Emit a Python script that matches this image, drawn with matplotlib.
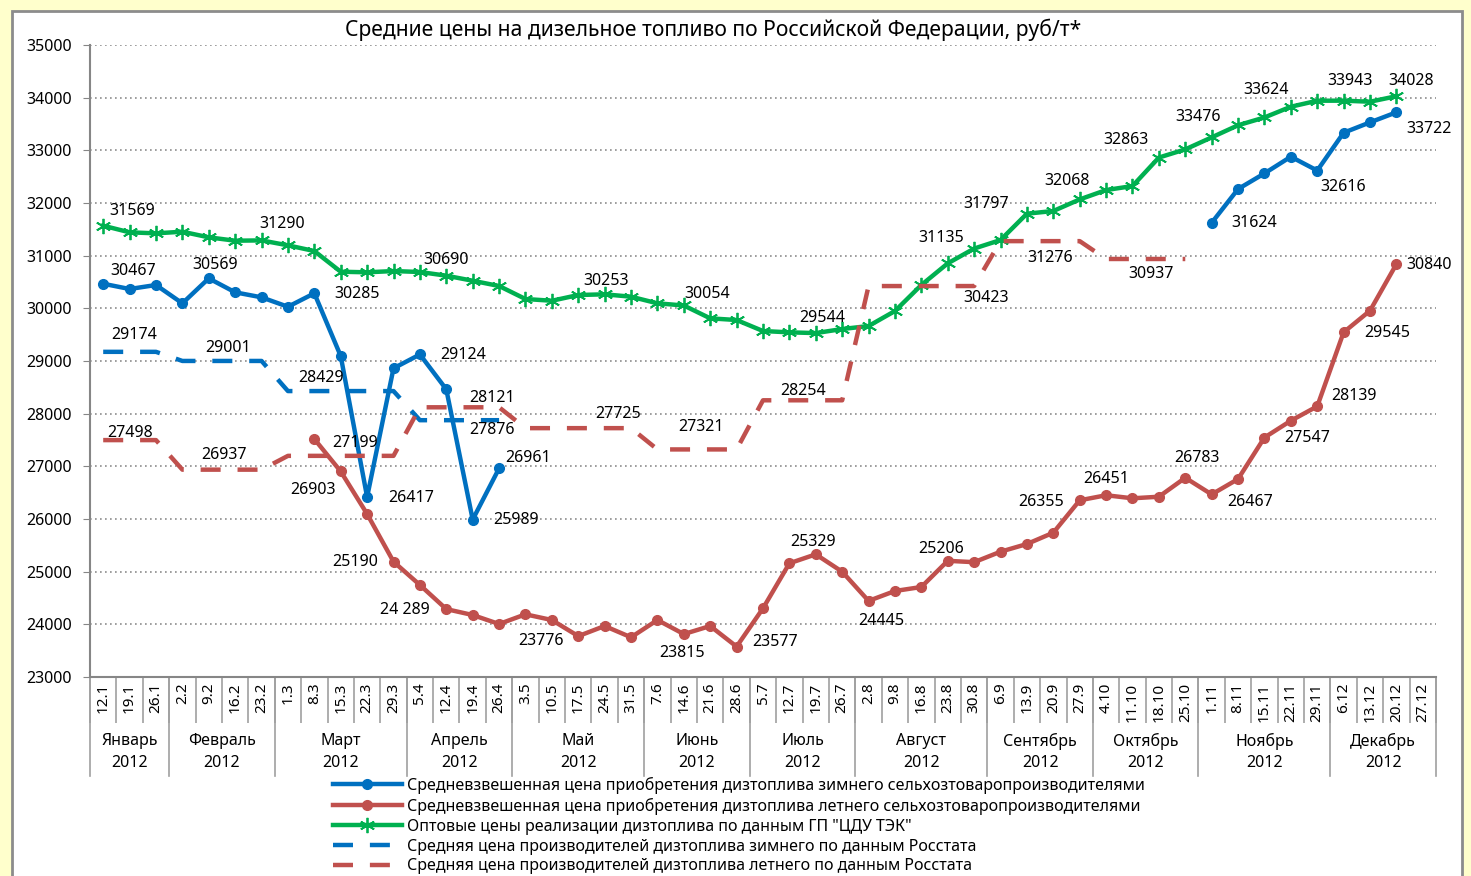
import numpy as np
import matplotlib
matplotlib.use("Agg")
import matplotlib.pyplot as plt
from matplotlib.patches import Rectangle
from matplotlib.lines import Line2D

plt.rcParams['font.family'] = ['Noto Sans', 'DejaVu Sans']

nan = np.nan

# -----------------------------
# Data (руб/т, weekly, 2012)
# -----------------------------
weeks = ['12.1', '19.1', '26.1', '2.2', '9.2', '16.2', '23.2', '1.3', '8.3', '15.3', '22.3', '29.3',
         '5.4', '12.4', '19.4', '26.4', '3.5', '10.5', '17.5', '24.5', '31.5', '7.6', '14.6', '21.6',
         '28.6', '5.7', '12.7', '19.7', '26.7', '2.8', '9.8', '16.8', '23.8', '30.8', '6.9', '13.9',
         '20.9', '27.9', '4.10', '11.10', '18.10', '25.10', '1.11', '8.11', '15.11', '22.11', '29.11',
         '6.12', '13.12', '20.12', '27.12']
months = ['Январь', 'Февраль', 'Март', 'Апрель', 'Май', 'Июнь', 'Июль', 'Август',
          'Сентябрь', 'Октябрь', 'Ноябрь', 'Декабрь']
weeks_per_month = [3, 4, 5, 4, 5, 4, 4, 5, 4, 4, 5, 4]
year = '2012'

winter_buy = ([30467, 30367, 30443, 30095, 30569, 30304, 30209, 30030, 30285, 29094, 26417,
               28861, 29124, 28462, 25989, 26961] + [nan] * 26 +
              [31624, 32265, 32562, 32879, 32616, 33334, 33531, 33722, nan])
summer_buy = ([nan] * 8 +
              [27519, 26903, 26095, 25190, 24747, 24289, 24177, 24006, 24190, 24082, 23776,
               23968, 23754, 24082, 23815, 23968, 23577, 24304, 25159, 25329, 24999, 24445,
               24633, 24709, 25206, 25180, 25379, 25525, 25740, 26355, 26451, 26393, 26423,
               26783, 26467, 26759, 27547, 27866, 28139, 29545, 29955, 30840, nan])
wholesale = [31569, 31443, 31424, 31455, 31348, 31284, 31290, 31196, 31088, 30695, 30684,
             30708, 30690, 30620, 30524, 30424, 30177, 30144, 30253, 30266, 30221, 30095,
             30054, 29810, 29778, 29569, 29544, 29530, 29607, 29664, 29949, 30443, 30854,
             31135, 31297, 31797, 31848, 32068, 32246, 32322, 32863, 33018, 33246, 33476,
             33624, 33828, 33942, 33943, 33923, 34028, nan]
# Rosstat: one value per month
winter_rosstat = [29174, 29001, 28429, 27876, nan, nan, nan, nan, nan, nan, nan, nan]
summer_rosstat = [27498, 26937, 27199, 28121, 27725, 27321, 28254, 30423, 31276, 30937, nan, nan]

names = ['Средневзвешенная цена приобретения дизтоплива зимнего сельхозтоваропроизводителями',
         'Средневзвешенная цена приобретения дизтоплива летнего сельхозтоваропроизводителями',
         'Оптовые цены реализации дизтоплива по данным ГП "ЦДУ ТЭК"',
         'Средняя цена производителей дизтоплива зимнего по данным Росстата',
         'Средняя цена производителей дизтоплива летнего по данным Росстата']

# -----------------------------
# Chart
# -----------------------------
BLUE, RED, GREEN = '#0070C0', '#C0504D', '#00B050'
W, H = 1471, 876

x = np.arange(len(weeks))
series = {
    'winter': np.array(winter_buy, dtype=float),
    'summer': np.array(summer_buy, dtype=float),
    'green': np.array(wholesale, dtype=float),
    'w_ross': np.repeat(winter_rosstat, weeks_per_month).astype(float),
    's_ross': np.repeat(summer_rosstat, weeks_per_month).astype(float),
}

fig = plt.figure(figsize=(W / 100, H / 100), dpi=100)
fig.patch.set_facecolor('#FFFFCC')
fig.patches.append(Rectangle((12 / W, -0.02), (1462 - 12) / W, 1.02 - 11 / H,
                             transform=fig.transFigure, facecolor='white',
                             edgecolor='#8C8C8C', lw=2, zorder=-10))

ax = fig.add_axes([90 / W, 1 - 677 / H, (1436 - 90) / W, (677 - 45) / H])
ax.set_facecolor('white')

ax.plot(x, series['winter'], color=BLUE, lw=3.2, marker='o', ms=7, label=names[0])
ax.plot(x, series['summer'], color=RED, lw=3.2, marker='o', ms=7, label=names[1])
ax.plot(x, series['green'], color=GREEN, lw=3.2, marker=(6, 2, 0), ms=11, mew=1.3,
        label=names[2])
ax.plot(x, series['w_ross'], color=BLUE, lw=3.2, ls=(0, (4.5, 3.8)), label=names[3])
ax.plot(x, series['s_ross'], color=RED, lw=3.2, ls=(0, (4.5, 3.8)), label=names[4])

# data labels: (series, index, dx px, dy px)
labels = [
    ('green', 0, 29, 15), ('green', 6, 21, 16), ('green', 12, 26, 12), ('green', 18, 28, 14),
    ('green', 22, 23, 11), ('green', 26, 33, 14), ('green', 33, -33, 11), ('green', 35, -41, 10),
    ('green', 37, -13, 18), ('green', 40, -33, 18), ('green', 43, -40, 8), ('green', 44, 2, 27),
    ('green', 47, 6, 20), ('green', 49, 15, 15),
    ('winter', 0, 30, 13), ('winter', 4, 6, 13), ('winter', 8, 43, -1), ('winter', 12, 43, -1),
    ('winter', 10, 44, -1), ('winter', 14, 43, 0), ('winter', 15, 29, 10), ('winter', 42, 43, 0),
    ('winter', 46, 26, -16), ('winter', 49, 33, -17),
    ('summer', 9, -28, -19), ('summer', 11, -38, 0), ('summer', 13, -41, -1),
    ('summer', 18, -37, -5), ('summer', 22, -2, -19), ('summer', 24, 38, 5),
    ('summer', 27, -3, 12), ('summer', 29, 13, -20), ('summer', 32, -7, 12),
    ('summer', 37, -39, -2), ('summer', 38, 0, 16), ('summer', 41, 12, 20),
    ('summer', 42, 38, -8), ('summer', 44, 43, 0), ('summer', 46, 37, 10),
    ('summer', 47, 44, -1), ('summer', 49, 33, -1),
    ('w_ross', 0, 31, 17), ('w_ross', 4, 19, 13), ('w_ross', 8, 7, 13), ('w_ross', 14, 19, -10),
    ('s_ross', 0, 27, 7), ('s_ross', 4, 15, 15), ('s_ross', 9, 14, 13), ('s_ross', 14, 19, 9),
    ('s_ross', 19, 13, 14), ('s_ross', 22, 17, 22), ('s_ross', 26, 14, 9),
    ('s_ross', 33, 12, -12), ('s_ross', 36, -3, -17), ('s_ross', 39, 19, -15),
]
spaced = {('summer', 13)}
for key, i, dx, dy in labels:
    v = series[key][i]
    txt = f"{v:,.0f}".replace(',', ' ') if (key, i) in spaced else f"{v:.0f}"
    ax.annotate(txt, (x[i], v), xytext=(dx, dy), textcoords='offset pixels',
                ha='center', va='center', fontsize=11.5, color='black', zorder=5)

# axes styling
ax.set_xlim(-0.5, len(weeks) - 0.5)
ax.set_ylim(23000, 35000)
ax.set_yticks(np.arange(23000, 35001, 1000))
ax.grid(axis='y', color='#8C8C8C', ls=(0, (1, 2)), lw=1.2)
ax.set_axisbelow(True)
for s in ('top', 'right'):
    ax.spines[s].set_visible(False)
for s in ('left', 'bottom'):
    ax.spines[s].set_color('#868686')
    ax.spines[s].set_linewidth(1.5)
ax.tick_params(axis='y', direction='out', length=5, color='#868686', labelsize=11.5, pad=8)

ax.set_xticks(x)
ax.set_xticklabels(weeks, rotation=90, fontsize=11)
ax.set_xticks(np.arange(-0.5, len(weeks), 1), minor=True)
ax.tick_params(axis='x', which='major', length=0, pad=4)
ax.tick_params(axis='x', which='minor', length=33, width=1.2, color='#A0A0A0')

# month groups
bounds = np.concatenate([[-0.5], np.cumsum(weeks_per_month) - 0.5])
xt = ax.get_xaxis_transform()
for b in bounds:
    ax.add_line(Line2D([b, b], [0, -(776 - 677) / (677 - 45)], transform=xt,
                       color='#A0A0A0', lw=1.2, clip_on=False))
for m, lo, hi in zip(months, bounds[:-1], bounds[1:]):
    c = (lo + hi) / 2
    ax.text(c, -(741 - 677) / (677 - 45), m, transform=xt, ha='center', va='center',
            fontsize=11.5)
    ax.text(c, -(763 - 677) / (677 - 45), year, transform=xt, ha='center', va='center',
            fontsize=11.5)

fig.text(713 / W, 1 - 30 / H,
         'Средние цены на дизельное топливо по Российской Федерации, руб/т*',
         ha='center', va='center', fontsize=15.2)

fig.legend(loc='upper left', bbox_to_anchor=(333 / W, 1 - 777 / H), frameon=False,
           fontsize=11.5, handlelength=4.3, handletextpad=0.35, labelspacing=0.24,
           borderpad=0, borderaxespad=0)

fig.savefig('out.png', dpi=100, facecolor=fig.get_facecolor())
